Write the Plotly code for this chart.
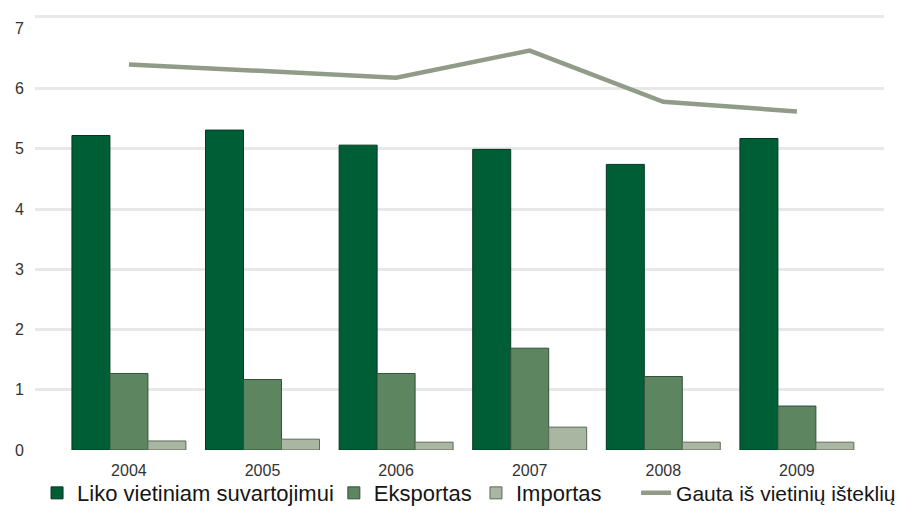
import plotly.graph_objects as go

years = ["2004", "2005", "2006", "2007", "2008", "2009"]
liko = [5.22, 5.31, 5.06, 4.99, 4.74, 5.17]
eksportas = [1.27, 1.17, 1.27, 1.69, 1.22, 0.73]
importas = [0.15, 0.18, 0.13, 0.38, 0.13, 0.13]
gauta = [6.40, 6.29, 6.18, 6.63, 5.78, 5.62]

grid_vals = [0, 1, 2, 3, 4, 5, 6, 7.2]
grid_text = ["0", "1", "2", "3", "4", "5", "6", ""]
top_tick = [7]

FONT = "Liberation Sans, Arial, sans-serif"
TICK = dict(size=16, color="#333333", family=FONT)

fig = go.Figure()
fig.add_trace(go.Bar(x=years, y=liko, name="Liko vietiniam suvartojimui", legend="legend",
                     marker=dict(color="#005E36", line=dict(color="#00381F", width=1))))
fig.add_trace(go.Bar(x=years, y=eksportas, name="Eksportas", legend="legend2",
                     marker=dict(color="#5C8560", line=dict(color="#33503A", width=1))))
fig.add_trace(go.Bar(x=years, y=importas, name="Importas", legend="legend3",
                     marker=dict(color="#A9B6A2", line=dict(color="#5E6A58", width=1))))
fig.add_trace(go.Scatter(x=years, y=gauta, name="Gauta iš vietinių išteklių", legend="legend4",
                         mode="lines", line=dict(color="#909C88", width=4.5)))
# helper trace carrying the "7" tick label on an overlay axis
fig.add_trace(go.Scatter(x=[years[0]], y=[None], yaxis="y2", showlegend=False,
                         hoverinfo="skip", mode="markers"))

def leg(x, size=22):
    return dict(orientation="h", x=x, y=-0.099, xanchor="left", yanchor="middle",
                font=dict(size=size, color="#161616", family=FONT),
                itemwidth=30, bgcolor="rgba(0,0,0,0)")

fig.update_layout(
    width=898, height=522,
    margin=dict(l=27, r=22, t=7, b=80, autoexpand=False),
    paper_bgcolor="white", plot_bgcolor="white",
    barmode="group", bargap=0.147, bargroupgap=0,
    font=dict(family=FONT, size=16, color="#333333"),
    xaxis=dict(type="category", range=[-0.703, 5.652], showgrid=False,
               showline=False, zeroline=False, ticks="", automargin=False,
               ticklabelstandoff=9, tickfont=TICK),
    yaxis=dict(range=[0, 7.22], tickvals=grid_vals, ticktext=grid_text,
               showgrid=True, gridcolor="#E8E8E8", gridwidth=3,
               zeroline=False, showline=False, ticks="", automargin=False,
               ticklabelstandoff=10, tickfont=TICK),
    yaxis2=dict(range=[0, 7.22], overlaying="y", side="left", tickvals=top_tick,
                ticktext=["7"], showgrid=False, zeroline=False, showline=False,
                ticks="", automargin=False, ticklabelstandoff=10, tickfont=TICK),
    legend=leg(0.0024),
    legend2=leg(0.352),
    legend3=leg(0.5194),
    legend4=leg(0.708, 21),
    showlegend=True,
)

fig.write_html("out.html")
